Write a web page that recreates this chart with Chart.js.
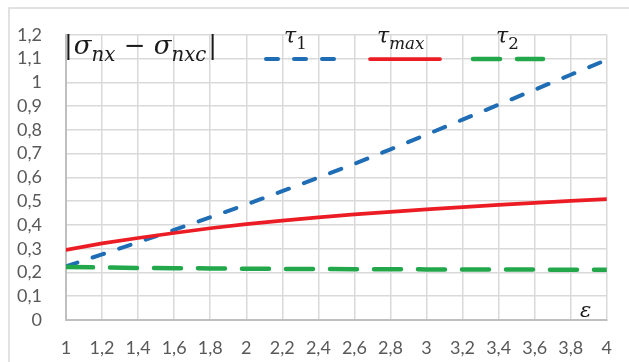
<!DOCTYPE html>
<html>
<head>
<meta charset="utf-8">
<script src="https://cdn.jsdelivr.net/npm/chart.js@4"></script>
<style>
  html, body { margin: 0; padding: 0; background: #fff; }
  #wrap { width: 629px; height: 362px; }
</style>
</head>
<body>
<div id="wrap"><canvas id="chart" width="629" height="362"></canvas></div>
<script>
const epsilon = [1, 1.2, 1.4, 1.6, 1.8, 2, 2.2, 2.4, 2.6, 2.8, 3, 3.2, 3.4, 3.6, 3.8, 4];
const tau1 = [0.226, 0.276, 0.327, 0.379, 0.432, 0.486, 0.542, 0.599, 0.657, 0.718, 0.78, 0.843, 0.906, 0.969, 1.032, 1.095];
const tauMax = [0.295, 0.322, 0.345, 0.366, 0.386, 0.403, 0.418, 0.432, 0.444, 0.455, 0.465, 0.475, 0.484, 0.493, 0.501, 0.509];
const tau2 = [0.223, 0.221, 0.219, 0.218, 0.217, 0.216, 0.215, 0.215, 0.214, 0.214, 0.213, 0.213, 0.212, 0.212, 0.211, 0.211];

const BLUE = '#1f6db5';
const RED = '#ec1c24';
const GREEN = '#22a84a';
const MATH_FONT = '"DejaVu Serif", "Liberation Serif", serif';

const toPoints = ys => ys.map((y, i) => ({ x: epsilon[i], y }));
const comma = v => String(Math.round(v * 10) / 10).replace('.', ',');

// writes italic math with subscripts, returns end x
function mathText(ctx, x, y, parts, size) {
  for (const p of parts) {
    const fs = p.sub ? size * 0.76 : size;
    ctx.font = (p.up ? '' : 'italic ') + fs + 'px ' + MATH_FONT;
    ctx.fillText(p.t, x, y + (p.sub ? size * 0.27 : 0));
    x += ctx.measureText(p.t).width + (p.gap || 0);
  }
  return x;
}

const decor = {
  id: 'decor',
  beforeDraw(chart) {
    const ctx = chart.ctx;
    ctx.save();
    ctx.fillStyle = '#fff';
    ctx.fillRect(0, 0, chart.width, chart.height);
    ctx.strokeStyle = '#d9d9d9';
    ctx.lineWidth = 1.5;
    ctx.strokeRect(9, 8, chart.width + 20, chart.height + 20);
    ctx.restore();
  },
  afterDraw(chart) {
    const ctx = chart.ctx;
    ctx.save();
    ctx.fillStyle = '#1a1a1a';
    ctx.textBaseline = 'alphabetic';
    mathText(ctx, 64, 54, [
      { t: '|', up: true, gap: 1 },
      { t: 'σ' },
      { t: 'nx', sub: true },
      { t: ' − ', up: true },
      { t: 'σ' },
      { t: 'nxc', sub: true, gap: 2 },
      { t: '|', up: true }
    ], 26);
    mathText(ctx, 284, 43, [{ t: 'τ' }, { t: '1', sub: true, up: true }], 22);
    mathText(ctx, 377, 43, [{ t: 'τ' }, { t: 'max', sub: true }], 22);
    mathText(ctx, 496, 43, [{ t: 'τ' }, { t: '2', sub: true, up: true }], 22);
    mathText(ctx, 580, 317, [{ t: 'ε' }], 21);

    // legend samples
    const samples = [
      { ds: 0, x0: 266, x1: 338 },
      { ds: 1, x0: 370, x1: 440 },
      { ds: 2, x0: 473, x1: 543 }
    ];
    ctx.lineCap = 'round';
    for (const s of samples) {
      const d = chart.data.datasets[s.ds];
      ctx.strokeStyle = d.borderColor;
      ctx.lineWidth = d.borderWidth;
      ctx.setLineDash(d.borderDash || []);
      ctx.beginPath();
      ctx.moveTo(s.x0, 59);
      ctx.lineTo(s.x1, 59);
      ctx.stroke();
    }
    ctx.restore();
  }
};

new Chart(document.getElementById('chart'), {
  type: 'line',
  data: {
    datasets: [
      { label: 'τ1', data: toPoints(tau1), borderColor: BLUE, borderWidth: 4, borderDash: [12, 16], borderCapStyle: 'round', order: 3 },
      { label: 'τmax', data: toPoints(tauMax), borderColor: RED, borderWidth: 3.75, borderCapStyle: 'round', order: 2 },
      { label: 'τ2', data: toPoints(tau2), borderColor: GREEN, borderWidth: 4.5, borderDash: [27, 17], borderCapStyle: 'round', order: 1 }
    ]
  },
  options: {
    responsive: false,
    animation: false,
    events: [],
    layout: { padding: { left: 0, right: 17, top: 23, bottom: 0 } },
    elements: { point: { radius: 0 }, line: { tension: 0 } },
    plugins: { legend: { display: false }, tooltip: { enabled: false } },
    scales: {
      x: {
        type: 'linear',
        min: 1,
        max: 4,
        ticks: {
          stepSize: 0.2,
          maxRotation: 0,
          autoSkip: false,
          padding: 17,
          color: '#595959',
          font: { family: 'Lato', size: 18 },
          callback: v => comma(v)
        },
        grid: { color: '#d9d9d9', lineWidth: 1.5, drawTicks: false },
        border: { color: '#bfbfbf', width: 2 },
        afterFit: s => { s.height = 42; }
      },
      y: {
        min: 0,
        max: 1.2,
        ticks: {
          stepSize: 0.1,
          autoSkip: false,
          padding: 24,
          color: '#595959',
          font: { family: 'Lato', size: 18 },
          callback: v => comma(v)
        },
        grid: { color: '#d9d9d9', lineWidth: 1.5, drawTicks: false },
        border: { color: '#bfbfbf', width: 2 },
        afterFit: s => { s.width = 66; }
      }
    }
  },
  plugins: [decor]
});
</script>
</body>
</html>
